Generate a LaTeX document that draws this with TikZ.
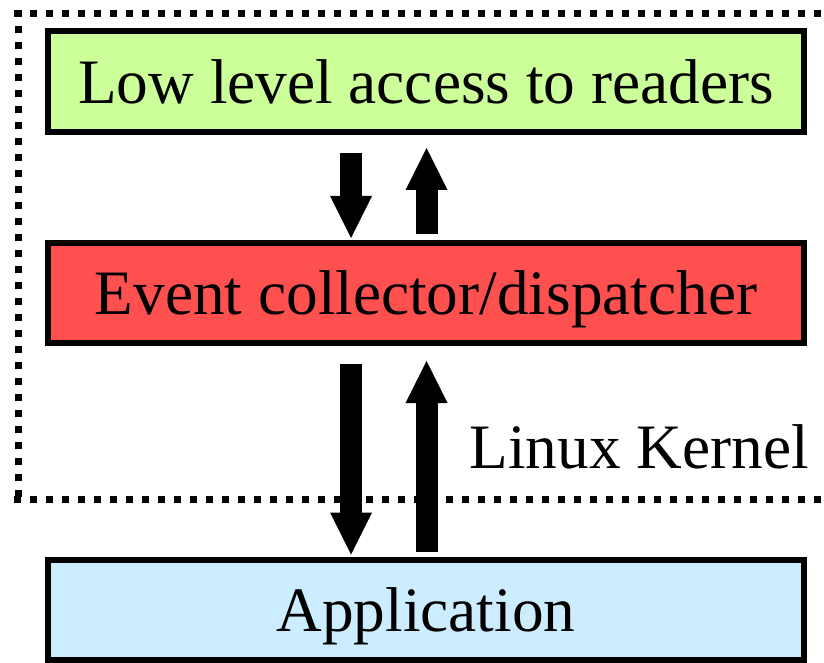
\documentclass[tikz,border=0pt]{standalone}
\usepackage{fontspec}
\setmainfont{Liberation Serif}
\usepackage{xcolor}
\usepackage{tikz}
\usetikzlibrary{arrows.meta, positioning, calc}

\definecolor{readergreen}{RGB}{204,255,153}
\definecolor{eventred}{RGB}{255,80,80}
\definecolor{appblue}{RGB}{204,236,255}

\begin{document}
\begin{tikzpicture}[
				layer/.style={draw, line width=0.12cm, minimum width=15.12cm, minimum height=2cm, inner sep=0pt, text depth=0pt, font=\fontsize{36}{40}\selectfont},
				bigarrow/.style={line width=0.44cm, -{Triangle[width=0.84cm, length=0.84cm, line width=0pt]}},
				kernelbox/.style={line width=0.14cm, dash pattern=on 0.14cm off 0.18cm}
			]
				% Frame
				\clip (0,0) rectangle (16.48,13.24);
				
				% Layers
				\node[layer, fill=readergreen, minimum height=2.02cm] (readers) at (8.52,11.61) {Low level access to readers};
				\node[layer, fill=eventred] (events) at (8.52,7.38) {Event collector/dispatcher};
				\node[layer, fill=appblue] (app) at (8.52,1.05) {Application};
				
				% Kernel boundary
				\draw[kernelbox] (0.29,12.97) -- (16.7,12.97);
				\draw[kernelbox] (0.36,13.04) -- (0.36,3.26);
				\draw[kernelbox] (0.29,3.26) -- (16.7,3.26);
				\node[anchor=base east, inner sep=0pt, font=\fontsize{36}{40}\selectfont] (kernel) at (16.18,3.87) {Linux Kernel};
				
				% Arrows
				\coordinate (down) at (7.02,0);
				\coordinate (up) at (8.53,0);
				\draw[bigarrow, shorten <=0.36cm, shorten >=0.04cm] (readers.south -| down) -- (events.north -| down);
				\draw[bigarrow, shorten <=0.12cm, shorten >=0.26cm] (events.north -| up) -- (readers.south -| up);
				\draw[bigarrow, shorten <=0.36cm, shorten >=0.04cm] (events.south -| down) -- (app.north -| down);
				\draw[bigarrow, shorten <=0.10cm, shorten >=0.30cm] (app.north -| up) -- (events.south -| up);
			\end{tikzpicture}
\end{document}
